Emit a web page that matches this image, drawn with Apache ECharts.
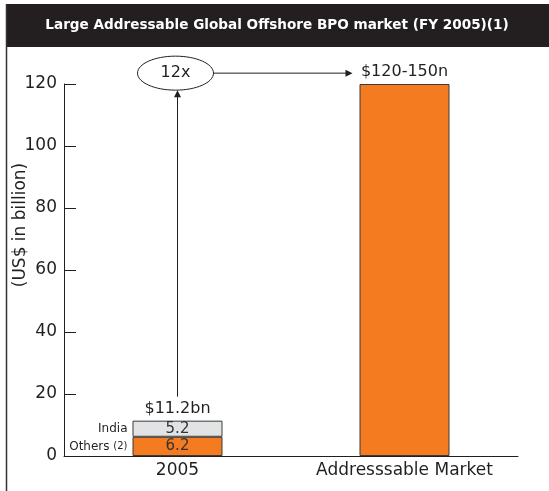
<!DOCTYPE html>
<html>
<head>
<meta charset="utf-8">
<script src="https://cdn.jsdelivr.net/npm/echarts@6/dist/echarts.min.js"></script>
<style>
  html, body { margin: 0; padding: 0; background: #ffffff; }
  #chart { width: 549px; height: 491px; }
</style>
</head>
<body>
<div id="chart"></div>
<script>
const titleText = 'Large Addressable Global Offshore BPO market (FY 2005)(1)'
const categories = ['2005', 'Addresssable Market']
const othersValues = [6.2, '-']
const indiaValues = [5.2, '-']
const marketValues = ['-', 120]
const topLabels = ['$11.2bn', '$120-150n']
const segmentNames = ['India', 'Others']
const multipleLabel = '12x'
const multipleLevel = 123.5

const dark = '#231f20'
const orange = '#f47b20'
const grey = '#e2e3e4'
const font = '"DejaVu Sans", Verdana, sans-serif'

const chart = echarts.init(document.getElementById('chart'))

const barStyle = color => ({ color: color, borderColor: '#3a3a3a', borderWidth: 1 })

const option = {
  animation: false,
  textStyle: { fontFamily: font },
  grid: { left: 64, right: 31, top: 84, bottom: 35 },
  xAxis: {
    type: 'category',
    data: categories,
    axisLine: { lineStyle: { color: dark, width: 1 } },
    axisTick: { inside: true, length: 10, lineStyle: { color: dark } },
    axisLabel: { color: dark, fontSize: 17, margin: 6, interval: 0 }
  },
  yAxis: {
    type: 'value',
    min: 0,
    max: 120,
    interval: 20,
    axisLine: { show: true, lineStyle: { color: dark, width: 1 } },
    axisTick: { show: true, inside: true, length: 12, lineStyle: { color: dark } },
    splitLine: { show: false },
    axisLabel: { color: dark, fontSize: 17, margin: 7 }
  },
  series: [
    {
      name: 'Others',
      type: 'bar',
      stack: 'total',
      barWidth: 90,
      data: othersValues,
      itemStyle: barStyle(orange),
      label: { show: true, position: 'inside', color: '#333', fontSize: 15 }
    },
    {
      name: 'India',
      type: 'bar',
      stack: 'total',
      barWidth: 90,
      data: indiaValues,
      itemStyle: barStyle(grey),
      label: { show: true, position: 'inside', color: '#333', fontSize: 15 }
    },
    {
      name: 'Market',
      type: 'bar',
      stack: 'total',
      barWidth: 90,
      data: marketValues,
      itemStyle: barStyle(orange),
      label: {
        show: true,
        position: 'top',
        distance: 4,
        color: dark,
        fontSize: 16,
        formatter: () => topLabels[1]
      }
    }
  ]
}

chart.setOption(option)

// annotations placed from the axes' own scales
const x0 = chart.convertToPixel({ xAxisIndex: 0 }, categories[0])
const x1 = chart.convertToPixel({ xAxisIndex: 0 }, categories[1])
const yOf = v => chart.convertToPixel({ yAxisIndex: 0 }, v)
const total = othersValues[0] + indiaValues[0]
const barLeft = x0 - 45
const yTop = yOf(total)
const yMult = yOf(multipleLevel)
const ellCx = x0 - 2
const rx = 38
const ry = 17

const arrowHead = (x, y, dir) => {
  const s = 7, w = 3.5
  const pts = dir === 'up'
    ? [[x, y], [x - w, y + s], [x + w, y + s]]
    : [[x, y], [x - s, y - w], [x - s, y + w]]
  return { type: 'polygon', shape: { points: pts }, style: { fill: dark } }
}

const hEnd = x1 - 52

chart.setOption({
  graphic: [
    {
      type: 'rect',
      shape: { x: 6, y: 4, width: 543, height: 43 },
      style: { fill: dark }
    },
    {
      type: 'line',
      shape: { x1: 6.5, y1: 4, x2: 6.5, y2: 491 },
      style: { stroke: '#333', lineWidth: 1.5 }
    },
    {
      type: 'text',
      x: 277,
      y: 25,
      style: {
        text: titleText,
        fill: '#ffffff',
        font: 'bold 13.6px ' + font,
        align: 'center',
        verticalAlign: 'middle'
      }
    },
    {
      type: 'text',
      x: 21,
      y: 225,
      rotation: Math.PI / 2,
      style: {
        text: '(US$ in billion)',
        fill: dark,
        font: '17px ' + font,
        align: 'center',
        verticalAlign: 'middle'
      }
    },
    {
      type: 'text',
      x: x0,
      y: yTop - 4,
      style: {
        text: topLabels[0],
        fill: dark,
        font: '16px ' + font,
        align: 'center',
        verticalAlign: 'bottom'
      }
    },
    {
      type: 'text',
      x: barLeft - 5,
      y: yOf(othersValues[0] + indiaValues[0] / 2),
      style: {
        text: segmentNames[0],
        fill: dark,
        font: '12px ' + font,
        align: 'right',
        verticalAlign: 'middle'
      }
    },
    {
      type: 'text',
      x: barLeft - 5,
      y: yOf(othersValues[0] / 2),
      style: {
        text: '{a|' + segmentNames[1] + ' }{b|(2)}',
        align: 'right',
        verticalAlign: 'middle',
        rich: {
          a: { fontSize: 12, fontFamily: font, fill: dark },
          b: { fontSize: 10, fontFamily: font, fill: dark }
        }
      }
    },
    {
      type: 'line',
      shape: { x1: x0, y1: yTop - 24, x2: x0, y2: yMult + ry + 6 },
      style: { stroke: dark, lineWidth: 1 }
    },
    arrowHead(x0, yMult + ry, 'up'),
    {
      type: 'ellipse',
      shape: { cx: ellCx, cy: yMult, rx: rx, ry: ry },
      style: { fill: '#fff', stroke: dark, lineWidth: 1 }
    },
    {
      type: 'text',
      x: ellCx,
      y: yMult,
      style: {
        text: multipleLabel,
        fill: dark,
        font: '16px ' + font,
        align: 'center',
        verticalAlign: 'middle'
      }
    },
    {
      type: 'line',
      shape: { x1: ellCx + rx, y1: yMult, x2: hEnd - 5, y2: yMult },
      style: { stroke: dark, lineWidth: 1 }
    },
    arrowHead(hEnd, yMult, 'right')
  ]
})

window.addEventListener('resize', () => chart.resize())
</script>
</body>
</html>
